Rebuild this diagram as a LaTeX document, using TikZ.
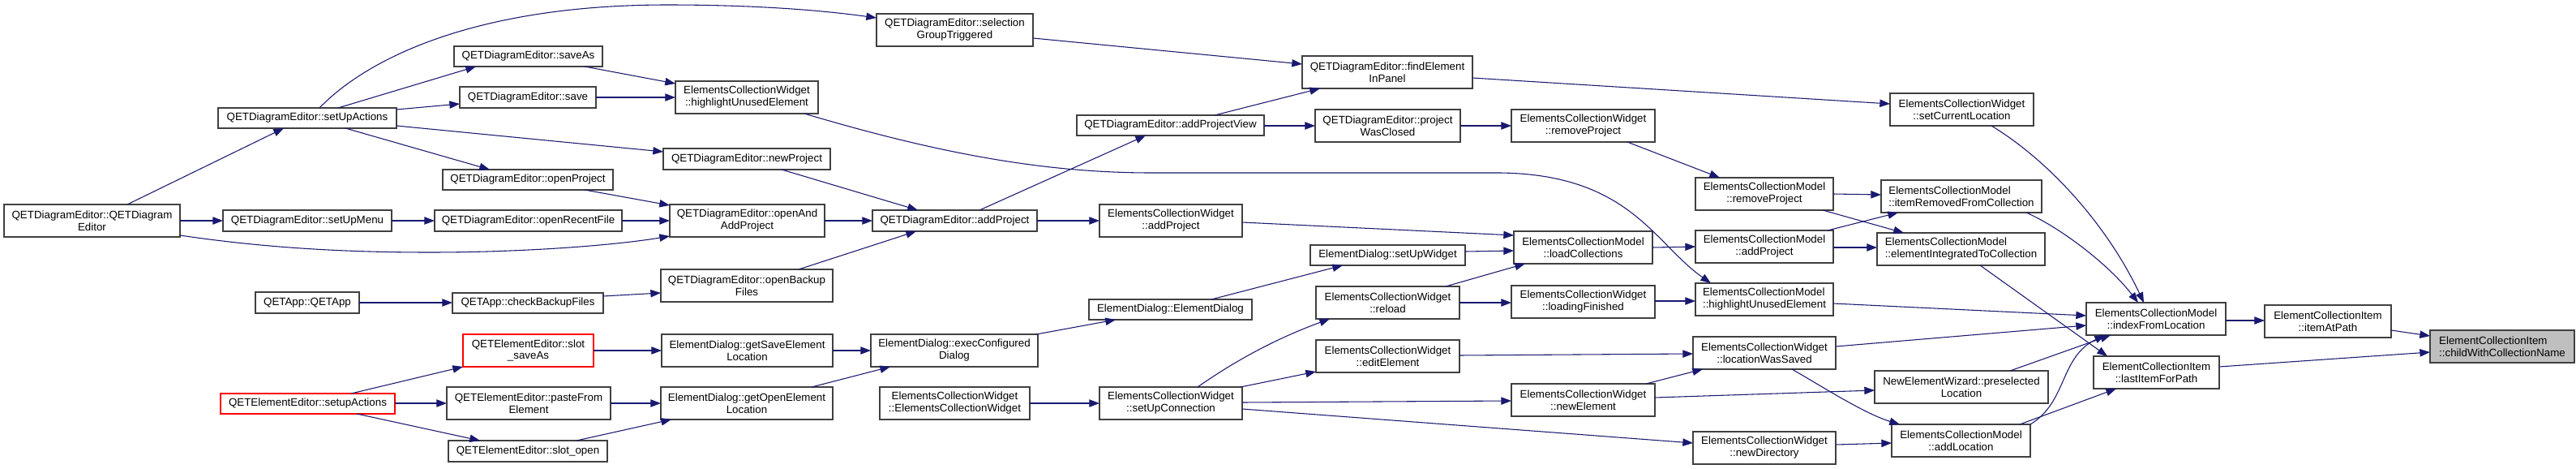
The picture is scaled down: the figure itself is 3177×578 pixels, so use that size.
\documentclass[tikz,border=0pt]{standalone}
\usepackage{fontspec}
\setmainfont{Liberation Sans}
\usetikzlibrary{arrows.meta,calc}
\definecolor{edgec}{HTML}{191970}
\definecolor{bordc}{HTML}{404040}
\definecolor{fillg}{HTML}{BFBFBF}
\definecolor{redc}{HTML}{FF0000}
\tikzset{
 box/.style={draw=bordc, line width=0.9pt, fill=white, inner sep=0pt, outer sep=0pt, align=center, font=\fontsize{10}{11.2}\selectfont, text=black},
 redbox/.style={draw=redc},
 hilite/.style={fill=fillg},
 lft/.style={align=left},
 conn/.style={draw=edgec, line width=0.8pt, -{Triangle[length=9.5pt,width=7pt]}},
}
\newcommand{\gbox}[7]{\node[box,#6,minimum width={(#4-#2)*0.75pt},minimum height={(#5-#3)*0.75pt}] (#1) at ({(#2+#4)/2},{(#3+#5)/2}) {#7};}
\begin{document}
\begin{tikzpicture}[x=0.75pt,y=-0.75pt]
\useasboundingbox (0,0) rectangle (3177,578);
\fill[white] (0,0) rectangle (3177,578);
% nodes
\gbox{A}{5}{252}{222}{292}{}{QETDiagramEditor::QETDiagram\\Editor}
\gbox{B}{269}{133}{489}{158}{}{QETDiagramEditor::setUpActions}
\gbox{C}{275}{259}{483}{285}{}{QETDiagramEditor::setUpMenu}
\gbox{D}{315}{360}{443}{386}{}{QETApp::QETApp}
\gbox{E}{272}{485}{487}{510}{redbox}{QETElementEditor::setupActions}
\gbox{F}{560}{57}{743}{82}{}{QETDiagramEditor::saveAs}
\gbox{G}{567}{107}{735}{133}{}{QETDiagramEditor::save}
\gbox{H}{833}{100}{1009}{140}{}{ElementsCollectionWidget\\::highlightUnusedElement}
\gbox{I}{818}{183}{1024}{209}{}{QETDiagramEditor::newProject}
\gbox{J}{546}{209}{756}{234}{}{QETDiagramEditor::openProject}
\gbox{K}{536}{259}{767}{285}{}{QETDiagramEditor::openRecentFile}
\gbox{L}{826}{252}{1017}{292}{}{QETDiagramEditor::openAnd\\AddProject}
\gbox{M}{558}{361}{744}{386}{}{QETApp::checkBackupFiles}
\gbox{N}{815}{332}{1027}{372}{}{QETDiagramEditor::openBackup\\Files}
\gbox{O}{571}{412}{732}{452}{redbox}{QETElementEditor::slot\\\_saveAs}
\gbox{P}{816}{412}{1027}{452}{}{ElementDialog::getSaveElement\\Location}
\gbox{Q}{551}{477}{753}{517}{}{QETElementEditor::pasteFrom\\Element}
\gbox{R}{815}{477}{1027}{517}{}{ElementDialog::getOpenElement\\Location}
\gbox{S}{553}{543}{749}{569}{}{QETElementEditor::slot\_open}
\gbox{T}{1081}{17}{1274}{57}{}{QETDiagramEditor::selection\\GroupTriggered}
\gbox{U}{1328}{142}{1559}{167}{}{QETDiagramEditor::addProjectView}
\gbox{V}{1076}{259}{1279}{285}{}{QETDiagramEditor::addProject}
\gbox{W}{1356}{252}{1532}{292}{}{ElementsCollectionWidget\\::addProject}
\gbox{X}{1343}{369}{1544}{394}{}{ElementDialog::ElementDialog}
\gbox{Y}{1074}{412}{1280}{452}{}{ElementDialog::execConfigured\\Dialog}
\gbox{Z}{1085}{477}{1270}{517}{}{ElementsCollectionWidget\\::ElementsCollectionWidget}
\gbox{AA}{1356}{477}{1532}{517}{}{ElementsCollectionWidget\\::setUpConnection}
\gbox{AB}{1606}{69}{1816}{109}{}{QETDiagramEditor::findElement\\InPanel}
\gbox{AC}{1622}{135}{1801}{175}{}{QETDiagramEditor::project\\WasClosed}
\gbox{AD}{1864}{135}{2041}{175}{}{ElementsCollectionWidget\\::removeProject}
\gbox{AE}{2091}{219}{2261}{259}{}{ElementsCollectionModel\\::removeProject}
\gbox{AF}{1867}{285}{2038}{325}{}{ElementsCollectionModel\\::loadCollections}
\gbox{AG}{1616}{302}{1807}{327}{}{ElementDialog::setUpWidget}
\gbox{AH}{1623}{353}{1800}{393}{}{ElementsCollectionWidget\\::reload}
\gbox{AI}{1864}{352}{2041}{392}{}{ElementsCollectionWidget\\::loadingFinished}
\gbox{AJ}{1623}{419}{1800}{459}{}{ElementsCollectionWidget\\::editElement}
\gbox{AK}{1864}{473}{2041}{513}{}{ElementsCollectionWidget\\::newElement}
\gbox{AL}{2091}{284}{2261}{324}{}{ElementsCollectionModel\\::addProject}
\gbox{AM}{2091}{349}{2261}{389}{lft}{ElementsCollectionModel\\::highlightUnusedElement}
\gbox{AN}{2088}{415}{2264}{455}{}{ElementsCollectionWidget\\::locationWasSaved}
\gbox{AO}{2088}{532}{2264}{572}{}{ElementsCollectionWidget\\::newDirectory}
\gbox{AP}{2331}{115}{2508}{155}{}{ElementsCollectionWidget\\::setCurrentLocation}
\gbox{AQ}{2320}{222}{2518}{262}{lft}{ElementsCollectionModel\\::itemRemovedFromCollection}
\gbox{AR}{2315}{287}{2522}{327}{lft}{ElementsCollectionModel\\::elementIntegratedToCollection}
\gbox{AS}{2573}{373}{2745}{413}{}{ElementsCollectionModel\\::indexFromLocation}
\gbox{AT}{2582}{439}{2737}{479}{}{ElementCollectionItem\\::lastItemForPath}
\gbox{AU}{2312}{457}{2526}{497}{}{NewElementWizard::preselected\\Location}
\gbox{AV}{2333}{523}{2504}{563}{}{ElementsCollectionModel\\::addLocation}
\gbox{AW}{2793}{376}{2949}{416}{}{ElementCollectionItem\\::itemAtPath}
\gbox{AX}{2997}{407}{3175}{447}{hilite,lft}{ElementCollectionItem\\::childWithCollectionName}
% edges
\draw[conn] ($(A.north west)+(152,0)$) -- ($(B.north west)+(81,25)$);
\draw[conn] ($(A.north west)+(217,20)$) -- ($(C.north west)+(0,13)$);
\draw[conn] ($(A.north west)+(217,38)$) .. controls (330,306) and (430,311) .. (530,311) .. controls (650,311) and (760,302) .. ($(L.north west)+(0,39)$);
\draw[conn] ($(C.north west)+(208,13)$) -- ($(K.north west)+(0,13)$);
\draw[conn] ($(B.north west)+(125,0)$) .. controls (455,70) and (590,6) .. (823,6) .. controls (950,6) and (1030,15) .. ($(T.north west)+(0,5)$);
\draw[conn] ($(B.north west)+(148,0)$) -- ($(F.north west)+(27,25)$);
\draw[conn] ($(B.north west)+(220,2)$) -- ($(G.north west)+(0,21)$);
\draw[conn] ($(B.north west)+(220,22)$) -- ($(I.north west)+(0,4)$);
\draw[conn] ($(B.north west)+(157,25)$) -- ($(J.north west)+(58,0)$);
\draw[conn] ($(F.north west)+(161,25)$) -- ($(H.north west)+(0,3)$);
\draw[conn] ($(G.north west)+(168,13)$) -- ($(H.north west)+(0,20)$);
\draw[conn] ($(H.north west)+(159,40)$) .. controls (1160,190) and (1290,213) .. (1420,213) -- (1850,213) .. controls (2010,215) and (2040,300) .. ($(AM.north west)+(19,0)$);
\draw[conn] ($(I.north west)+(146,26)$) -- ($(V.north west)+(56,0)$);
\draw[conn] ($(J.north west)+(175,25)$) -- ($(L.north west)+(0,1)$);
\draw[conn] ($(K.north west)+(231,13)$) -- ($(L.north west)+(0,20)$);
\draw[conn] ($(L.north west)+(191,20)$) -- ($(V.north west)+(0,13)$);
\draw[conn] ($(N.north west)+(170,0)$) -- ($(V.north west)+(54,26)$);
\draw[conn] ($(D.north west)+(128,13)$) -- ($(M.north west)+(0,12)$);
\draw[conn] ($(M.north west)+(186,4)$) -- ($(N.north west)+(0,29)$);
\draw[conn] ($(E.north west)+(161,0)$) -- ($(O.north west)+(0,40)$);
\draw[conn] ($(E.north west)+(215,12)$) -- ($(Q.north west)+(0,20)$);
\draw[conn] ($(E.north west)+(168,25)$) -- ($(S.north west)+(39,0)$);
\draw[conn] ($(O.north west)+(161,20)$) -- ($(P.north west)+(0,20)$);
\draw[conn] ($(Q.north west)+(202,20)$) -- ($(R.north west)+(0,20)$);
\draw[conn] ($(S.north west)+(158,0)$) -- ($(R.north west)+(13,40)$);
\draw[conn] ($(P.north west)+(211,20)$) -- ($(Y.north west)+(0,20)$);
\draw[conn] ($(R.north west)+(186,0)$) -- ($(Y.north west)+(24,40)$);
\draw[conn] ($(Y.north west)+(204,0)$) -- ($(X.north west)+(33,25)$);
\draw[conn] ($(X.north west)+(151,0)$) -- ($(AG.north west)+(40,25)$);
\draw[conn] ($(AG.north west)+(191,8)$) -- ($(AF.north west)+(0,24)$);
\draw[conn] ($(Z.north west)+(185,20)$) -- ($(AA.north west)+(0,20)$);
\draw[conn] ($(AA.north west)+(121,0)$) .. controls (1530,440) and (1580,415) .. ($(AH.north west)+(17,40)$);
\draw[conn] ($(AA.north west)+(174,0)$) -- ($(AJ.north west)+(0,39)$);
\draw[conn] ($(AA.north west)+(176,19)$) -- ($(AK.north west)+(0,21)$);
\draw[conn] ($(AA.north west)+(176,27)$) -- ($(AO.north west)+(0,14)$);
\draw[conn] ($(AH.north west)+(160,0)$) -- ($(AF.north west)+(14,40)$);
\draw[conn] ($(AH.north west)+(177,20)$) -- ($(AI.north west)+(0,21)$);
\draw[conn] ($(V.north west)+(132,0)$) -- ($(U.north west)+(85,25)$);
\draw[conn] ($(V.north west)+(203,13)$) -- ($(W.north west)+(0,20)$);
\draw[conn] ($(U.north west)+(170,0)$) -- ($(AB.north west)+(22,40)$);
\draw[conn] ($(U.north west)+(231,13)$) -- ($(AC.north west)+(0,20)$);
\draw[conn] ($(T.north west)+(193,30)$) -- ($(AB.north west)+(0,10)$);
\draw[conn] ($(AB.north west)+(210,27)$) -- ($(AP.north west)+(0,13)$);
\draw[conn] ($(AC.north west)+(179,20)$) -- ($(AD.north west)+(0,20)$);
\draw[conn] ($(AD.north west)+(143,40)$) -- ($(AE.north west)+(30,0)$);
\draw[conn] ($(W.north west)+(176,22)$) -- ($(AF.north west)+(0,5)$);
\draw[conn] ($(AF.north west)+(171,20)$) -- ($(AL.north west)+(0,20)$);
\draw[conn] ($(AI.north west)+(177,19)$) -- ($(AM.north west)+(0,22)$);
\draw[conn] ($(AJ.north west)+(177,19)$) -- ($(AN.north west)+(0,21)$);
\draw[conn] ($(AK.north west)+(166,0)$) -- ($(AN.north west)+(12,40)$);
\draw[conn] ($(AK.north west)+(177,17)$) -- ($(AU.north west)+(0,24)$);
\draw[conn] ($(AO.north west)+(176,16)$) -- ($(AV.north west)+(0,23)$);
\draw[conn] ($(AN.north west)+(122,40)$) .. controls (2250,478) and (2300,510) .. ($(AV.north west)+(10,0)$);
\draw[conn] ($(AN.north west)+(176,12)$) -- ($(AS.north west)+(0,28)$);
\draw[conn] ($(AM.north west)+(170,25)$) -- ($(AS.north west)+(0,16)$);
\draw[conn] ($(AE.north west)+(170,20)$) -- ($(AQ.north west)+(0,18)$);
\draw[conn] ($(AE.north west)+(157,40)$) -- ($(AR.north west)+(33,0)$);
\draw[conn] ($(AL.north west)+(163,0)$) -- ($(AQ.north west)+(21,40)$);
\draw[conn] ($(AL.north west)+(170,21)$) -- ($(AR.north west)+(0,18)$);
\draw[conn] ($(AP.north west)+(125,40)$) .. controls (2530,200) and (2600,280) .. ($(AS.north west)+(71,0)$);
\draw[conn] ($(AQ.north west)+(179,40)$) .. controls (2540,280) and (2600,325) .. ($(AS.north west)+(64,0)$);
\draw[conn] ($(AR.north west)+(127,40)$) -- ($(AT.north west)+(17,0)$);
\draw[conn] ($(AU.north west)+(167,0)$) -- ($(AS.north west)+(30,40)$);
\draw[conn] ($(AV.north west)+(171,0)$) .. controls (2550,495) and (2540,440) .. ($(AS.north west)+(23,40)$);
\draw[conn] ($(AV.north west)+(158,0)$) -- ($(AT.north west)+(28,40)$);
\draw[conn] ($(AS.north west)+(172,22)$) -- ($(AW.north west)+(0,19)$);
\draw[conn] ($(AW.north west)+(156,31)$) -- ($(AX.north west)+(0,7)$);
\draw[conn] ($(AT.north west)+(155,13)$) -- ($(AX.north west)+(0,27)$);
\end{tikzpicture}
\end{document}
